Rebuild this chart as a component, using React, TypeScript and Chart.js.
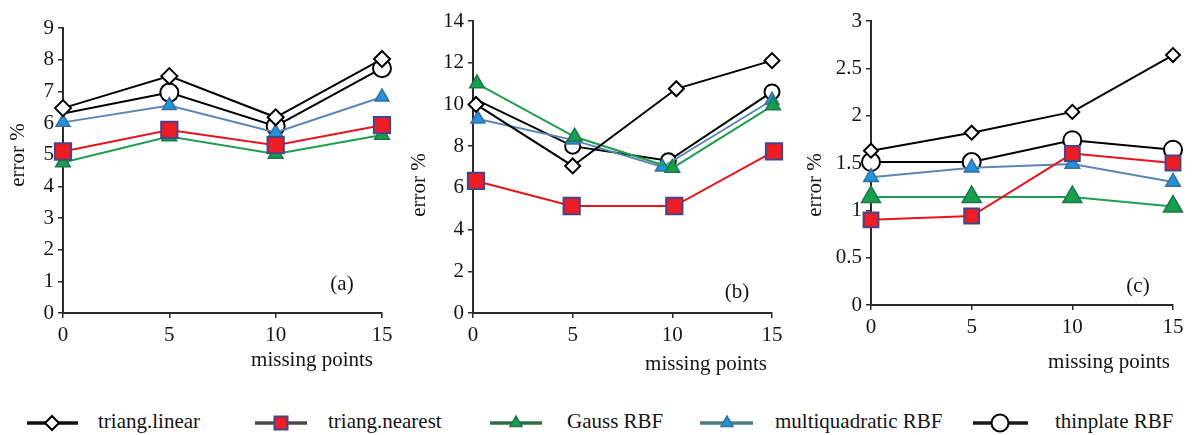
import React, { useEffect, useRef } from 'react';
import { Chart, registerables } from 'chart.js';

Chart.register(...registerables);

// ---------------- data ----------------
const seriesNames = ['triang.linear', 'triang.nearest', 'Gauss RBF', 'multiquadratic RBF', 'thinplate RBF'];
const missingPoints = [0, 5, 10, 15];

// panel (a)
const aLinear = [6.47, 7.48, 6.18, 8.02];
const aNearest = [5.1, 5.78, 5.3, 5.93];
const aGauss = [4.75, 5.57, 5.02, 5.62];
const aMulti = [6.02, 6.55, 5.7, 6.82];
const aThin = [6.3, 6.96, 5.9, 7.73];

// panel (b)
const bLinearX = [0.15, 5.0, 10.2, 15.0];
const bLinear = [10.0, 7.05, 10.75, 12.1];
const bNearestX = [0.15, 4.95, 10.1, 15.1];
const bNearest = [6.33, 5.13, 5.13, 7.75];
const bGaussX = [0.2, 5.1, 10.0, 15.05];
const bGauss = [11.0, 8.45, 6.95, 9.95];
const bMultiX = [0.25, 5.0, 9.5, 15.0];
const bMulti = [9.3, 8.3, 7.0, 10.2];
const bThinX = [0.1, 5.0, 9.8, 15.0];
const bThin = [10.25, 8.0, 7.3, 10.6];

// panel (c)
const cLinear = [1.63, 1.82, 2.04, 2.64];
const cNearest = [0.9, 0.94, 1.6, 1.5];
const cGauss = [1.14, 1.14, 1.14, 1.04];
const cMulti = [1.35, 1.45, 1.49, 1.3];
const cThin = [1.51, 1.51, 1.74, 1.64];

const yTitle = 'error %';
const xTitle = 'missing points';
const panelLabels = ['(a)', '(b)', '(c)'];

// ---------------- styles ----------------
const FONT = '"Liberation Serif", "Times New Roman", serif';
const TEXT = '#141414';
const AXIS = '#2a2a2a';

const seriesStyle = [
  { line: '#000000', fill: '#ffffff', border: '#000000', shape: 'rectRot', lw: 2, bw: 2 },
  { line: '#e8141c', fill: '#ee1c24', border: '#45468a', shape: 'rect', lw: 2, bw: 2 },
  { line: '#1e9e4e', fill: '#17a04c', border: '#1d7650', shape: 'triangle', lw: 2, bw: 1.5 },
  { line: '#5a86b6', fill: '#1f93dc', border: '#3b6d9c', shape: 'triangle', lw: 2, bw: 1.5 },
  { line: '#000000', fill: '#ffffff', border: '#000000', shape: 'circle', lw: 2, bw: 2 },
];

const zip = (xs: number[], ys: number[]) => ys.map((y, i) => ({ x: xs[i], y }));

type PanelDef = {
  left: number; width: number; height: number;
  areaLeft: number; areaTop: number; areaRight: number; areaBottom: number;
  yMax: number; yStep: number;
  series: { x: number; y: number }[][];
  radii: (number | number[])[];
  yTitlePos: [number, number];
  xTitlePos: [number, number];
  labelPos: [number, number];
  label: string;
};

const panels: PanelDef[] = [
  {
    left: 0, width: 400, height: 380,
    areaLeft: 63, areaTop: 28, areaRight: 382, areaBottom: 313,
    yMax: 9, yStep: 1,
    series: [
      zip(missingPoints, aLinear), zip(missingPoints, aNearest), zip(missingPoints, aGauss),
      zip(missingPoints, aMulti), zip(missingPoints, aThin),
    ],
    radii: [8, 11.5, 8.5, 8, [0, 9, 9, 9]],
    yTitlePos: [18, 155], xTitlePos: [373, 366], labelPos: [342, 290], label: panelLabels[0],
  },
  {
    left: 400, width: 390, height: 380,
    areaLeft: 73, areaTop: 21, areaRight: 372, areaBottom: 313,
    yMax: 14, yStep: 2,
    series: [
      zip(bLinearX, bLinear), zip(bNearestX, bNearest), zip(bGaussX, bGauss),
      zip(bMultiX, bMulti), zip(bThinX, bThin),
    ],
    radii: [7.5, 11.5, 8.5, 8, [0, 7.5, 7.5, 7.5]],
    yTitlePos: [19, 185], xTitlePos: [367, 370], labelPos: [337, 298], label: panelLabels[1],
  },
  {
    left: 790, width: 402, height: 380,
    areaLeft: 81, areaTop: 21, areaRight: 383, areaBottom: 305,
    yMax: 3, yStep: 0.5,
    series: [
      zip(missingPoints, cLinear), zip(missingPoints, cNearest), zip(missingPoints, cGauss),
      zip(missingPoints, cMulti), zip(missingPoints, cThin),
    ],
    radii: [7, 10.5, 11, 8.5, 9],
    yTitlePos: [25, 185], xTitlePos: [380, 368], labelPos: [348, 292], label: panelLabels[2],
  },
];

const textPlugin = {
  id: 'panelText',
  afterDraw(chart: any, _args: any, opts: any) {
    const ctx = chart.ctx as CanvasRenderingContext2D;
    ctx.save();
    ctx.fillStyle = TEXT;
    ctx.font = `21px ${FONT}`;
    ctx.save();
    ctx.translate(opts.yTitlePos[0], opts.yTitlePos[1]);
    ctx.rotate(-Math.PI / 2);
    ctx.textAlign = 'center';
    ctx.textBaseline = 'middle';
    ctx.fillText(yTitle, 0, 0);
    ctx.restore();
    ctx.textBaseline = 'alphabetic';
    ctx.textAlign = 'right';
    ctx.fillText(xTitle, opts.xTitlePos[0], opts.xTitlePos[1]);
    ctx.textAlign = 'center';
    ctx.fillText(opts.label, opts.labelPos[0], opts.labelPos[1]);
    ctx.restore();
  },
};

function makeConfig(p: PanelDef): any {
  return {
    type: 'line',
    data: {
      datasets: p.series.map((pts, i) => {
        const s = seriesStyle[i];
        return {
          label: seriesNames[i],
          data: pts,
          borderColor: s.line,
          borderWidth: s.lw,
          pointStyle: s.shape,
          pointRadius: p.radii[i],
          pointBackgroundColor: s.fill,
          pointBorderColor: s.border,
          pointBorderWidth: s.bw,
          tension: 0,
          fill: false,
          clip: false,
          order: i,
        };
      }),
    },
    options: {
      animation: false,
      responsive: false,
      events: [],
      layout: { padding: { left: 0, top: p.areaTop, right: p.width - p.areaRight, bottom: 0 } },
      plugins: {
        legend: { display: false },
        tooltip: { enabled: false },
        panelText: { yTitlePos: p.yTitlePos, xTitlePos: p.xTitlePos, labelPos: p.labelPos, label: p.label },
      },
      scales: {
        x: {
          type: 'linear',
          min: 0,
          max: 15,
          afterFit: (s: any) => { s.height = p.height - p.areaBottom; },
          ticks: { stepSize: 5, color: TEXT, font: { family: FONT, size: 21 }, padding: 5, maxRotation: 0 },
          grid: { drawOnChartArea: false, drawTicks: true, tickLength: 5, color: AXIS, lineWidth: 1.5 },
          border: { display: true, color: AXIS, width: 2 },
        },
        y: {
          type: 'linear',
          min: 0,
          max: p.yMax,
          afterFit: (s: any) => { s.width = p.areaLeft; },
          ticks: {
            stepSize: p.yStep, color: TEXT, font: { family: FONT, size: 21 }, padding: 4,
            callback: (v: any) => String(v),
          },
          grid: { drawOnChartArea: false, drawTicks: true, tickLength: 5, color: AXIS, lineWidth: 1.5 },
          border: { display: true, color: AXIS, width: 2 },
        },
      },
    },
    plugins: [textPlugin],
  };
}

function Panel({ p }: { p: PanelDef }) {
  const ref = useRef<HTMLCanvasElement | null>(null);
  useEffect(() => {
    if (!ref.current) return;
    const chart = new Chart(ref.current, makeConfig(p));
    return () => chart.destroy();
  }, [p]);
  return (
    <canvas
      ref={ref}
      width={p.width}
      height={p.height}
      style={{ position: 'absolute', left: p.left, top: 0, width: p.width, height: p.height }}
    />
  );
}

// legend layout
const legendItems = [
  { x1: 27, x2: 78, mx: 52, tx: 98, r: 7 },
  { x1: 255, x2: 307, mx: 281, tx: 328, r: 6.5 },
  { x1: 490, x2: 542, mx: 516, tx: 567, r: 7 },
  { x1: 700, x2: 753, mx: 727, tx: 775, r: 7 },
  { x1: 973, x2: 1028, mx: 1000, tx: 1055, r: 8.5 },
];
const legendLine = ['#111111', '#4a4a4a', '#2f6e44', '#4b7c80', '#1a1a1a'];

function Marker({ i, cx, cy, r }: { i: number; cx: number; cy: number; r: number }) {
  const s = seriesStyle[i];
  if (s.shape === 'rectRot')
    return <polygon points={`${cx - r},${cy} ${cx},${cy - r} ${cx + r},${cy} ${cx},${cy + r}`} fill={s.fill} stroke={s.border} strokeWidth={2} />;
  if (s.shape === 'rect')
    return <rect x={cx - r} y={cy - r} width={2 * r} height={2 * r} fill={s.fill} stroke={s.border} strokeWidth={2} />;
  if (s.shape === 'triangle') {
    const h = r * 0.866;
    return <polygon points={`${cx},${cy - r} ${cx + h},${cy + r / 2} ${cx - h},${cy + r / 2}`} fill={s.fill} stroke={s.border} strokeWidth={1.5} />;
  }
  return <circle cx={cx} cy={cy} r={r} fill={s.fill} stroke={s.border} strokeWidth={2} />;
}

export default function App() {
  useEffect(() => {
    document.body.style.margin = '0';
  }, []);
  return (
    <div style={{ position: 'absolute', left: 0, top: 0, width: 1192, height: 435, background: '#fff', overflow: 'hidden' }}>
      {panels.map((p, i) => <Panel key={i} p={p} />)}
      <svg width={1192} height={40} style={{ position: 'absolute', left: 0, top: 395 }}>
        {legendItems.map((it, i) => (
          <g key={i}>
            <line x1={it.x1} x2={it.x2} y1={28} y2={28} stroke={legendLine[i]} strokeWidth={3.5} />
            <Marker i={i} cx={it.mx} cy={28} r={it.r} />
            <text x={it.tx} y={33} fontFamily={FONT} fontSize={21} fill={TEXT}>{seriesNames[i]}</text>
          </g>
        ))}
      </svg>
    </div>
  );
}
